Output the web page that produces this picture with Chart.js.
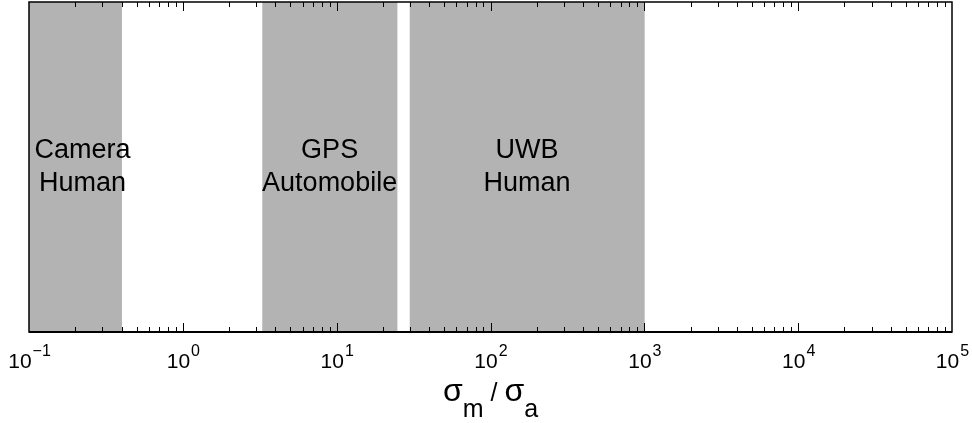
<!DOCTYPE html>
<html lang="en">
  <head>
    <meta charset="UTF-8" />
    <script src="https://cdn.jsdelivr.net/npm/chart.js@4"></script>
    <title>Sensor ratio bands</title>
    <style>
      body { margin: 0; background: #fff; }
      #wrap { width: 972px; height: 423px; }
    </style>
  </head>
  <body>
    <div id="wrap"><canvas id="myChart"></canvas></div>

    <script>
      // bands of sigma_m / sigma_a for each sensor / target
      const bandNames = [["Camera", "Human"], ["GPS", "Automobile"], ["UWB", "Human"]];
      const bandStart = [0.1, 3.3, 30];
      const bandEnd = [0.4, 24.7, 1000];
      const labelAt = [0.223, 9, 173];
      const tickExps = [-1, 0, 1, 2, 3, 4, 5];

      const FONT = "'Liberation Sans', Arial, Helvetica, sans-serif";

      const datasets = bandStart.map((s, i) => ({
        label: bandNames[i].join(" "),
        data: [[s, bandEnd[i]]],
        backgroundColor: "#b3b3b3",
        borderWidth: 0,
        barPercentage: 1,
        categoryPercentage: 1
      }));

      // frame, inward ticks, 10^n labels, band text and the axis title
      const decor = {
        id: "decor",
        afterDatasetsDraw(chart) {
          const ctx = chart.ctx;
          const xs = chart.scales.x;
          const a = chart.chartArea;
          ctx.save();

          // band text
          ctx.fillStyle = "#000";
          ctx.font = "27px " + FONT;
          ctx.textAlign = "center";
          ctx.textBaseline = "alphabetic";
          const mid = (a.top + a.bottom) / 2;
          bandNames.forEach((lines, i) => {
            const px = xs.getPixelForValue(labelAt[i]);
            ctx.fillText(lines[0], px, mid - 9);
            ctx.fillText(lines[1], px, mid + 24);
          });

          // ticks
          ctx.strokeStyle = "#000";
          ctx.lineWidth = 1;
          for (let e = tickExps[0]; e < tickExps[tickExps.length - 1]; e++) {
            for (let m = 1; m < 10; m++) {
              if (m === 1 && e === tickExps[0]) continue;
              const px = Math.round(xs.getPixelForValue(m * Math.pow(10, e))) + 0.5;
              const len = m === 1 ? 9 : 5;
              ctx.beginPath();
              ctx.moveTo(px, a.bottom);
              ctx.lineTo(px, a.bottom - len);
              ctx.moveTo(px, a.top);
              ctx.lineTo(px, a.top + len);
              ctx.stroke();
            }
          }

          // frame
          ctx.lineWidth = 1.5;
          ctx.strokeRect(a.left, a.top, a.right - a.left, a.bottom - a.top);
          ctx.lineWidth = 2;
          ctx.beginPath();
          ctx.moveTo(a.left, a.bottom);
          ctx.lineTo(a.right, a.bottom);
          ctx.stroke();

          // tick labels 10^n
          ctx.textAlign = "left";
          tickExps.forEach(e => {
            const px = xs.getPixelForValue(Math.pow(10, e));
            ctx.font = "21px " + FONT;
            const wb = ctx.measureText("10").width;
            ctx.font = "16px " + FONT;
            const sup = e < 0 ? "\u2212" + Math.abs(e) : String(e);
            const ws = ctx.measureText(sup).width;
            const x0 = px - (wb + ws) / 2;
            ctx.font = "21px " + FONT;
            ctx.fillText("10", x0, a.bottom + 36);
            ctx.font = "16px " + FONT;
            ctx.fillText(sup, x0 + wb + 1, a.bottom + 24);
          });

          // axis title: sigma_m / sigma_a
          const parts = [
            ["\u03c3", 32, 0], ["m", 25, 16], [" / ", 25, 0],
            ["\u03c3", 32, 0], ["a", 25, 16]
          ];
          let total = 0;
          parts.forEach(p => {
            ctx.font = p[1] + "px " + FONT;
            p.push(ctx.measureText(p[0]).width);
            total += p[3];
          });
          let x = (a.left + a.right) / 2 - total / 2;
          parts.forEach(p => {
            ctx.font = p[1] + "px " + FONT;
            ctx.fillText(p[0], x, a.bottom + 69 + p[2]);
            x += p[3];
          });

          ctx.restore();
        }
      };

      const ctx = document.getElementById("myChart").getContext("2d");
      const chart = new Chart(ctx, {
        type: "bar",
        data: { labels: ["band"], datasets: datasets },
        options: {
          indexAxis: "y",
          responsive: true,
          maintainAspectRatio: false,
          animation: false,
          layout: { padding: { left: 29, right: 20, top: 2, bottom: 91 } },
          plugins: { legend: { display: false }, tooltip: { enabled: false } },
          scales: {
            x: { type: "logarithmic", min: 0.1, max: 100000, display: false },
            y: { display: false }
          },
          datasets: { bar: { grouped: false } }
        },
        plugins: [decor]
      });
    </script>
  </body>
</html>
